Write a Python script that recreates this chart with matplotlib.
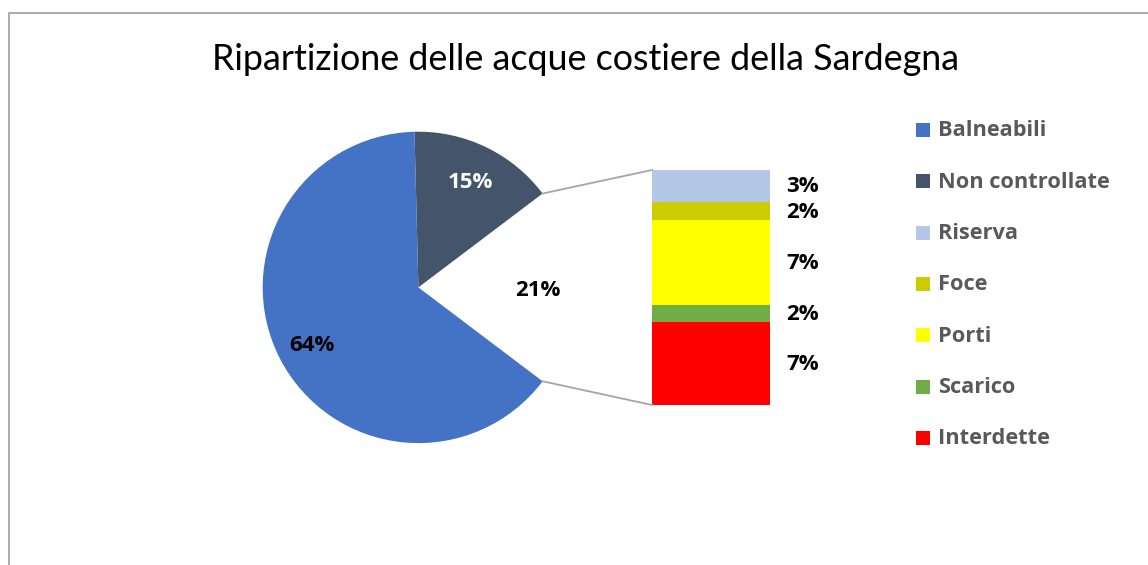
import numpy as np
import matplotlib
matplotlib.use('Agg')
import matplotlib.pyplot as plt
from matplotlib.patches import Rectangle

plt.rcParams['font.family'] = ['Open Sans', 'DejaVu Sans']

title = 'Ripartizione delle acque costiere della Sardegna'

# main pie (percent of coast)
pie_names = ['Balneabili', 'Non controllate']
pie_values = [64.3, 15.1]
pie_colors = ['#4472C4', '#44546A']

# split of the remaining slice, bottom to top of the bar
bar_names = ['Interdette', 'Scarico', 'Porti', 'Foce', 'Riserva']
bar_values = [7.3, 1.5, 7.4, 1.6, 2.8]
bar_colors = ['#FF0000', '#70AD47', '#FFFF00', '#CCCC00', '#B4C7E7']

legend_order = ['Balneabili', 'Non controllate', 'Riserva', 'Foce', 'Porti', 'Scarico', 'Interdette']

W, H = 1148, 565


def pct(v):
    return '{}%'.format(int(v + 0.5))


def main():
    fig = plt.figure(figsize=(W / 100, H / 100), dpi=100)
    ax = fig.add_axes([0, 0, 1, 1])

    other = sum(bar_values)
    # order clockwise: Non controllate, other, Balneabili; other slice faces the bar
    vals = [pie_values[1], other, pie_values[0]]
    cols = [pie_colors[1], 'none', pie_colors[0]]
    start = 360 * other / 100 / 2 + 360 * pie_values[1] / 100
    cx, cy, R = 418.4, H - 287.4, 155.7
    ax.pie(vals, colors=cols, startangle=start, counterclock=False,
           center=(cx, cy), radius=R, wedgeprops=dict(linewidth=0))

    # labels inside the pie
    ang = start
    txt_cols = ['white', 'black', 'black']
    for v, tc in zip(vals, txt_cols):
        mid = np.radians(ang - 360 * v / 100 / 2)
        ax.text(cx + 0.77 * R * np.cos(mid), cy + 0.77 * R * np.sin(mid) - 3, pct(v),
                ha='center', va='center', fontsize=16, fontweight='bold', color=tc)
        ang -= 360 * v / 100

    # stacked bar of the other slice
    bx0, bw = 652, 118
    btop, bbot = H - 170, H - 405
    scale = (btop - bbot) / other
    bottom = bbot
    for name, v, c in zip(bar_names, bar_values, bar_colors):
        ax.bar(bx0 + bw / 2, v * scale, width=bw, bottom=bottom, color=c, linewidth=0)
        ax.text(786, bottom + v * scale / 2 - 1, pct(v), ha='left', va='center',
                fontsize=16, fontweight='bold', color='black')
        bottom += v * scale

    # connector lines
    a1 = np.radians(360 * other / 100 / 2)
    ax.plot([cx + R * np.cos(a1), bx0], [cy + R * np.sin(a1), btop], color='#A6A6A6', lw=1.3)
    ax.plot([cx + R * np.cos(-a1), bx0], [cy + R * np.sin(-a1), bbot], color='#A6A6A6', lw=1.3)

    # legend
    colors = dict(zip(pie_names + bar_names, pie_colors + bar_colors))
    for i, name in enumerate(legend_order):
        y = H - (130 + 51.3 * i)
        ax.add_patch(Rectangle((916, y - 7), 14, 14, color=colors[name], lw=0))
        ax.text(938, y - 1, name, ha='left', va='center', fontsize=15.7,
                fontweight='bold', color='#595959')

    ax.text(586, H - 59, title, ha='center', va='center', fontsize=25.8,
            family=['Lato', 'DejaVu Sans'], color='black')

    # chart border
    ax.plot([8.5, 8.5, W + 5], [-5, H - 12.5, H - 12.5], color='#A6A6A6', lw=1.3)

    ax.set_xlim(0, W)
    ax.set_ylim(0, H)
    ax.set_aspect('equal')
    ax.axis('off')
    fig.savefig('out.png', dpi=100)


if __name__ == '__main__':
    main()
